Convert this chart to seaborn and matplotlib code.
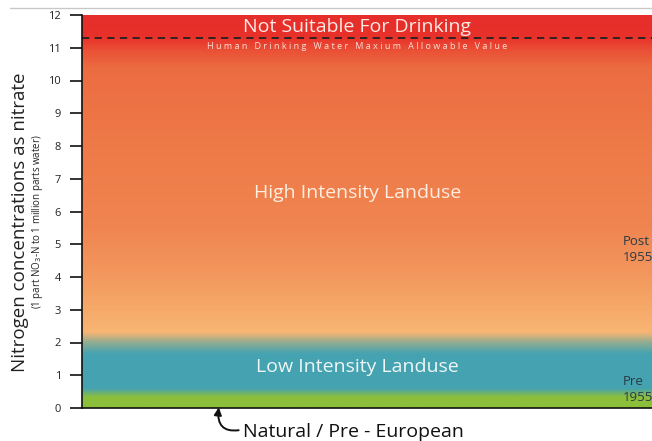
import numpy as np
import matplotlib
matplotlib.use("Agg")
import matplotlib.pyplot as plt
import seaborn as sns
from matplotlib.colors import LinearSegmentedColormap
from matplotlib.lines import Line2D

# ---- data ----
y_ticks = list(range(0, 13))
y_max = 12
max_allowable = 11.3
gradient_levels = [0.0, 0.32, 0.58, 1.65, 2.0, 2.3, 3.0, 4.0, 5.5, 8.0, 10.4, 10.9, 11.35, 12.0]
gradient_colors = ["#8cbf3a", "#8cbf3a", "#45a2b1", "#46a3b0", "#93ad90", "#f8b574",
                   "#f6aa6a", "#f3985e", "#f08551", "#ee7a48", "#ec6c42", "#ea5236",
                   "#e8312a", "#e62e2a"]
zone_labels = ["Not Suitable For Drinking", "High Intensity Landuse", "Low Intensity Landuse"]
zone_label_y = [11.62, 6.55, 1.25]
limit_label = "Human Drinking Water Maxium Allowable Value"
period_labels = ["Post\n1955", "Pre\n1955"]
period_label_y = [4.85, 0.55]
natural_label = "Natural / Pre - European"

# ---- style ----
sns.set_theme(style="white")
plt.rcParams["font.family"] = ["Open Sans", "DejaVu Sans"]

fig = plt.figure(figsize=(6.52, 4.41), dpi=100)
ax = fig.add_axes([82/652, 33/441, 1 - 82/652, (408-15)/441])

cmap = LinearSegmentedColormap.from_list(
    "nitrate", list(zip(np.array(gradient_levels) / y_max, gradient_colors)), N=512)
grad = np.linspace(0, 1, 600).reshape(-1, 1)
ax.imshow(grad, cmap=cmap, aspect="auto", origin="lower",
          extent=[0, 1, 0, y_max], interpolation="bilinear")

ax.set_xlim(0, 1)
ax.set_ylim(0, y_max)
ax.set_yticks(y_ticks)
ax.set_yticklabels([str(t) for t in y_ticks], fontsize=8, color="#222222")
ax.set_xticks([])
ax.tick_params(axis="y", direction="out", length=9, width=1.2, color="#111111", pad=6, left=True)
for s in ["top", "right"]:
    ax.spines[s].set_visible(False)
for s in ["left", "bottom"]:
    ax.spines[s].set_color("#111111")
    ax.spines[s].set_linewidth(1.2)

# dashed limit line
ax.axhline(max_allowable, color="#222222", lw=1.3, ls=(0, (4, 3)))

xc = 0.483
ax.text(xc, zone_label_y[0], zone_labels[0], ha="center", va="center",
        fontsize=14, color="#fbe9e4")
spaced = "   ".join(" ".join(w) for w in limit_label.split(" "))
ax.text(xc, 11.03, spaced, ha="center", va="center",
        fontsize=6.5, color="#f7e2d8")
ax.text(xc, zone_label_y[1], zone_labels[1], ha="center", va="center",
        fontsize=14, color="#fdeee0")
ax.text(xc, zone_label_y[2], zone_labels[2], ha="center", va="center",
        fontsize=14, color="#eef6f7")

for lab, yy in zip(period_labels, period_label_y):
    ax.text(0.948, yy, lab, ha="left", va="center", fontsize=9.5,
            color="#2b3a44", linespacing=1.3)

# natural / pre-european annotation
ax.annotate(natural_label, xy=(0.24, 0.02), xytext=(0.283, -0.72),
            xycoords="data", textcoords="data", ha="left", va="center",
            fontsize=14, color="#111111", annotation_clip=False,
            arrowprops=dict(arrowstyle="-|>", color="#111111", lw=1.4,
                            connectionstyle="arc3,rad=-0.7", relpos=(0.0, 0.62),
                            shrinkA=1, shrinkB=0, mutation_scale=11))

# axis titles
fig.text(20/652, 1 - 222/441, "Nitrogen concentrations as nitrate", rotation=90,
         ha="center", va="center", fontsize=13.5, color="#222222")
fig.text(38/652, 1 - 222/441, "(1 part NO$_3$-N to 1 million parts water)", rotation=90,
         ha="center", va="center", fontsize=7, color="#222222")

# thin top rule
fig.add_artist(Line2D([10/652, 1], [1 - 8/441, 1 - 8/441], transform=fig.transFigure,
                      color="#c8c8c8", lw=1))

fig.savefig("out.png", dpi=100)
